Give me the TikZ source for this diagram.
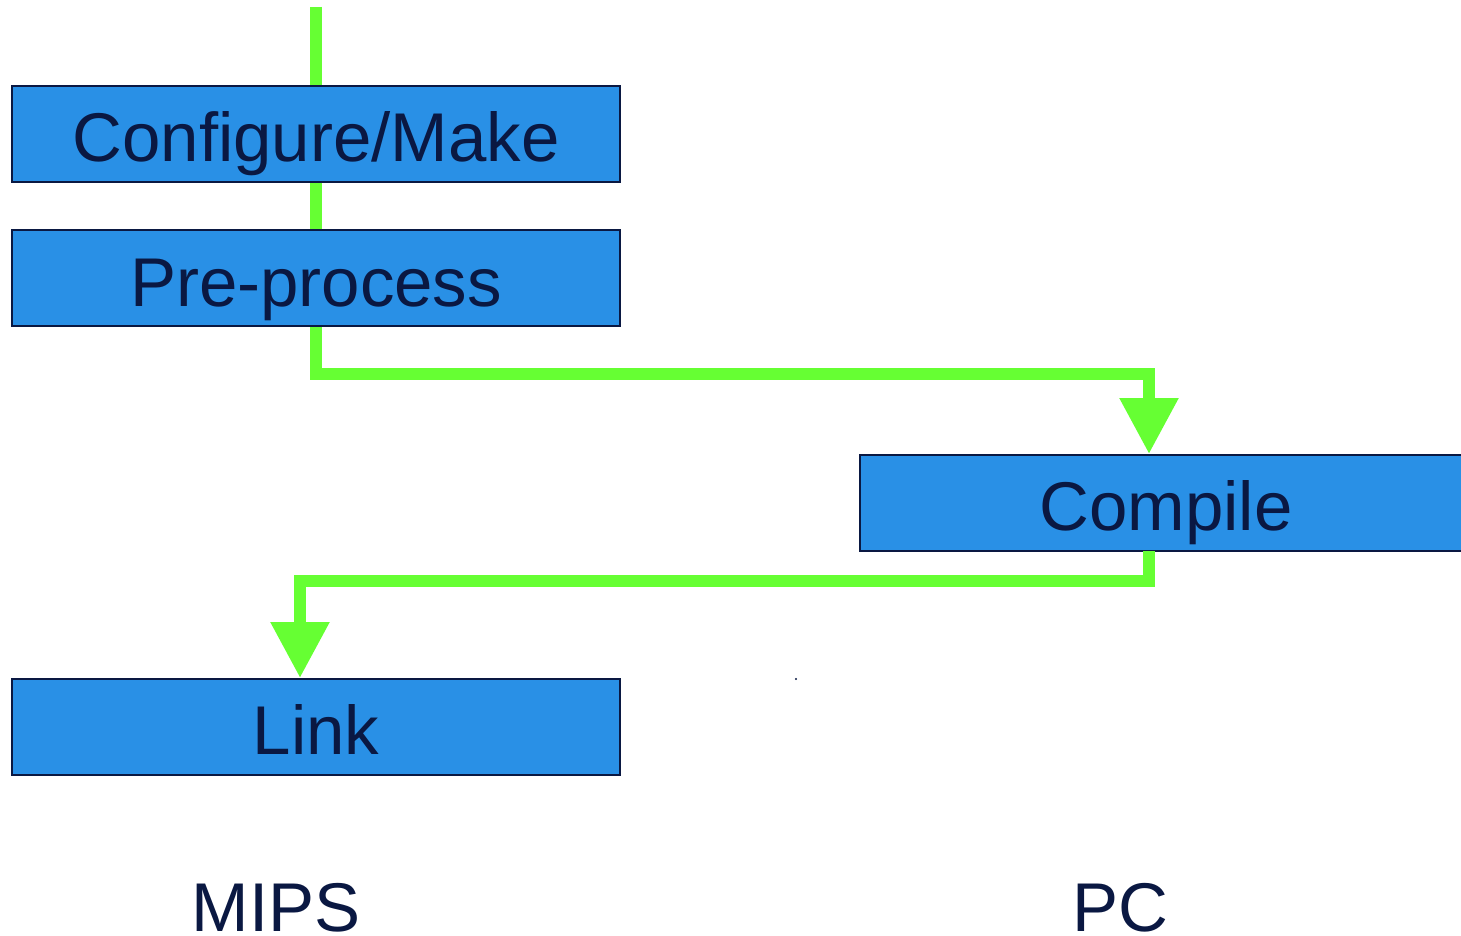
\documentclass[tikz,border=0pt]{standalone}
\usepackage{fontspec}
\setmainfont{Liberation Sans}
\usetikzlibrary{arrows.meta}
\definecolor{boxblue}{RGB}{41,144,230}
\definecolor{navy}{RGB}{10,24,66}
\definecolor{flowgreen}{RGB}{102,255,51}
\tikzset{
  stagebox/.style={draw=navy, line width=2pt, fill=boxblue, text=navy,
    minimum width=608pt, minimum height=96pt, inner sep=0pt,
    text height=62pt, text depth=6pt,
    font=\fontsize{69}{80}\selectfont},
  flow/.style={draw=flowgreen, line width=12pt},
  flowarrow/.style={flow, -{Triangle[width=56pt,length=56pt]}},
  label/.style={text=navy, font=\fontsize{69}{80}\selectfont, inner sep=0pt, anchor=base}
}
\begin{document}
\begin{tikzpicture}[x=1pt,y=-1pt]
\useasboundingbox (0,0) rectangle (1461,936);
\coordinate (top) at (316,7);
\node[stagebox] (conf) at (316,134) {Configure/Make};
\node[stagebox] (pre) at (316,278) {Pre-process};
\node[stagebox, minimum width=612pt] (comp) at (1166,502.5) {Compile};
\node[stagebox] (link) at (316,726.5) {Link};
\draw[flow] (top) -- (conf.north);
\draw[flow] (conf.south) -- (pre.north);
\draw[flowarrow] (pre.south) -- (316,374) -- (1149,374) -- (1149,454);
\draw[flowarrow] (1149,551) -- (1149,581) -- (300,581) -- (300,678);
\node[label] (mips) at (276,931) {MIPS};
\node[label] (pc) at (1120,931) {PC};
\fill[navy] (796,679) circle (1.2pt);
\end{tikzpicture}
\end{document}
